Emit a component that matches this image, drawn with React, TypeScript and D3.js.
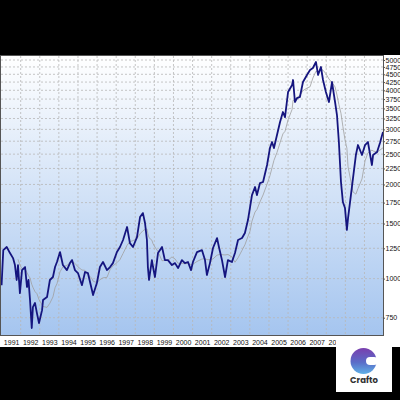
import { useEffect, useRef } from "react";
import { select, scaleLinear, scaleLog, axisRight, axisBottom, line, mean, range } from "d3";

// decimal year of each reading
const times = [
  1991.0, 1991.09, 1991.27, 1991.44, 1991.6, 1991.7, 1991.79, 1991.86, 1991.96, 1992.07,
  1992.23, 1992.33, 1992.41, 1992.49, 1992.58, 1992.64, 1992.75, 1992.85, 1992.96, 1993.12,
  1993.17, 1993.38, 1993.53, 1993.69, 1993.8, 1993.9, 1994.06, 1994.21, 1994.42, 1994.58,
  1994.69, 1994.84, 1995.0, 1995.21, 1995.37, 1995.52, 1995.73, 1995.79, 1995.99, 1996.15,
  1996.31, 1996.52, 1996.68, 1996.83, 1997.04, 1997.2, 1997.36, 1997.57, 1997.72, 1997.88,
  1998.09, 1998.25, 1998.4, 1998.51, 1998.61, 1998.66, 1998.72, 1998.87, 1998.93, 1999.03,
  1999.19, 1999.4, 1999.55, 1999.71, 1999.92, 2000.08, 2000.24, 2000.44, 2000.6, 2000.76,
  2000.92, 2001.02, 2001.23, 2001.49, 2001.65, 2001.75, 2001.91, 2002.07, 2002.28, 2002.38,
  2002.54, 2002.7, 2002.85, 2003.06, 2003.22, 2003.38, 2003.59, 2003.74, 2003.9, 2004.01,
  2004.11, 2004.27, 2004.37, 2004.53, 2004.69, 2004.9, 2005.05, 2005.16, 2005.26, 2005.42,
  2005.58, 2005.73, 2005.84, 2006.0, 2006.21, 2006.26, 2006.36, 2006.47, 2006.62, 2006.78,
  2006.99, 2007.15, 2007.3, 2007.46, 2007.57, 2007.72, 2007.83, 2007.98, 2008.14, 2008.3,
  2008.46, 2008.56, 2008.66, 2008.77, 2008.87, 2008.98, 2009.08, 2009.14, 2009.29, 2009.4,
  2009.55, 2009.66, 2009.87, 2010.03, 2010.18, 2010.39, 2010.45, 2010.66, 2010.81, 2010.97,
];

// index level
const values = [
  953, 1234, 1262, 1207, 1163, 1105, 990, 1105, 899, 1065,
  1089, 940, 990, 854, 695, 811, 836, 776, 721, 793,
  854, 873, 990, 1012, 1089, 1130, 1216, 1105, 1065, 1121,
  1146, 1065, 1042, 953, 1050, 1042, 920, 886, 968, 1089,
  1130, 1065, 1089, 1121, 1216, 1262, 1329, 1462, 1299, 1262,
  1358, 1573, 1620, 1506, 1329, 1089, 990, 1146, 1089, 1012,
  1207, 1262, 1146, 1146, 1105, 1121, 1081, 1146, 1121, 1130,
  1065, 1130, 1216, 1234, 1146, 1027, 1121, 1253, 1348, 1262,
  1146, 1012, 1146, 1130, 1207, 1329, 1348, 1399, 1539, 1694,
  1850, 1963, 1850, 2021, 2037, 2308, 2615, 2734, 2615, 2879,
  3168, 3409, 3285, 3951, 4159, 4315, 3670, 3779, 3808, 4252,
  4478, 4645, 4714, 4927, 4478, 4749, 4315, 3951, 3670, 4252,
  3670, 3334, 2734, 2037, 1757, 1681, 1430, 1562, 1850, 2097,
  2484, 2674, 2484, 2674, 2734, 2308, 2484, 2540, 2714, 2943,
];

const years = range(1991, 2011);
const priceTicks = [750, 1000, 1250, 1500, 1750, 2000, 2250, 2500, 2750, 3000, 3250, 3500, 3750, 4000, 4250, 4500, 4750, 5000];

const maWindow = 0.8; // ~200 trading days

export default function App() {
  const svgRef = useRef<SVGSVGElement>(null);

  useEffect(() => {
    const svg = select(svgRef.current);
    svg.selectAll("*").remove();

    const left = 1, right = 383, top = 56, bottom = 335;

    const x = scaleLinear().domain([1990.97, 2010.97]).range([left, right]);
    const y = scaleLog().domain([750, 5000]).range([317.7, 60]);

    const data = times.map((t, i) => ({ t, v: values[i] }));
    const ma = data
      .filter((d) => d.t - times[0] >= maWindow)
      .map((d) => ({
        t: d.t,
        v: mean(data.filter((e) => e.t <= d.t && e.t > d.t - maWindow), (e) => e.v) as number,
      }));

    // backgrounds
    svg.append("rect").attr("width", 400).attr("height", 400).attr("fill", "#000");
    svg.append("rect").attr("x", 0).attr("y", 55).attr("width", 400).attr("height", 292).attr("fill", "#fff");

    const defs = svg.append("defs");
    const bg = defs.append("linearGradient").attr("id", "bg").attr("x1", 0).attr("y1", 0).attr("x2", 0).attr("y2", 1);
    bg.append("stop").attr("offset", "0%").attr("stop-color", "#ffffff");
    bg.append("stop").attr("offset", "100%").attr("stop-color", "#a5c5ef");
    defs.append("clipPath").attr("id", "plot")
      .append("rect").attr("x", left).attr("y", top).attr("width", right - left).attr("height", bottom - top);

    svg.append("rect")
      .attr("x", left).attr("y", top).attr("width", right - left).attr("height", bottom - top)
      .attr("fill", "url(#bg)");

    // grid
    const grid = svg.append("g").attr("stroke", "#b8b8b8").attr("stroke-width", 0.8).attr("stroke-dasharray", "2,2");
    grid.selectAll(".h").data(priceTicks).join("line")
      .attr("x1", left).attr("x2", right)
      .attr("y1", (d) => y(d)).attr("y2", (d) => y(d));
    grid.selectAll(".v").data(years.slice(1)).join("line")
      .attr("y1", top).attr("y2", bottom)
      .attr("x1", (d) => x(d)).attr("x2", (d) => x(d));

    const lines = svg.append("g").attr("clip-path", "url(#plot)");
    const gen = line<{ t: number; v: number }>().x((d) => x(d.t)).y((d) => y(d.v));

    lines.append("path").datum(ma)
      .attr("d", gen).attr("fill", "none").attr("stroke", "#a0a0a0").attr("stroke-width", 0.8);
    lines.append("path").datum(data)
      .attr("d", gen).attr("fill", "none").attr("stroke", "#15157f").attr("stroke-width", 1.8)
      .attr("stroke-linejoin", "round");

    // frame
    svg.append("rect")
      .attr("x", left - 0.5).attr("y", top - 0.5).attr("width", right - left + 1).attr("height", bottom - top + 1)
      .attr("fill", "none").attr("stroke", "#555").attr("stroke-width", 1);

    // axes
    const yAxis = axisRight(y).tickValues(priceTicks).tickFormat((d) => String(d)).tickSize(1.5).tickPadding(0.5);
    const ya = svg.append("g").attr("transform", `translate(${right + 0.5},0)`).call(yAxis);
    ya.select(".domain").remove();
    ya.selectAll("text").attr("font-size", 7).attr("font-family", "Liberation Sans, Arial, sans-serif").attr("fill", "#111");
    ya.selectAll("line").attr("stroke", "#555");

    const xAxis = axisBottom(x).tickValues(years.map((d) => d + 0.5)).tickFormat((d) => String(Math.floor(+d))).tickSize(0).tickPadding(5);
    const xa = svg.append("g").attr("transform", `translate(0,${bottom})`).call(xAxis);
    xa.select(".domain").remove();
    xa.selectAll("text").attr("font-size", 7).attr("font-family", "Liberation Sans, Arial, sans-serif").attr("fill", "#111");

    // cropped bottom
    svg.append("rect").attr("x", 0).attr("y", 347).attr("width", 400).attr("height", 53).attr("fill", "#000");

    // watermark badge
    const lg = defs.append("linearGradient").attr("id", "logo").attr("x1", 0).attr("y1", 0).attr("x2", 0).attr("y2", 1);
    lg.append("stop").attr("offset", "0%").attr("stop-color", "#7a3fae");
    lg.append("stop").attr("offset", "55%").attr("stop-color", "#5a6cc8");
    lg.append("stop").attr("offset", "100%").attr("stop-color", "#5fb0e6");
    const badge = svg.append("g");
    badge.append("rect").attr("x", 336).attr("y", 338).attr("width", 56).attr("height", 54).attr("fill", "#fff");
    badge.append("circle").attr("cx", 363.5).attr("cy", 361).attr("r", 13).attr("fill", "url(#logo)");
    badge.append("rect").attr("x", 366).attr("y", 357).attr("width", 12).attr("height", 8).attr("rx", 4).attr("fill", "#fff");
    badge.append("text").attr("x", 364).attr("y", 383).attr("text-anchor", "middle")
      .attr("font-size", 8.5).attr("font-weight", "bold").attr("font-family", "Poppins, Noto Sans, sans-serif")
      .attr("fill", "#333").text("Crafto");
  }, []);

  return <svg ref={svgRef} width={400} height={400} style={{ position: "fixed", left: 0, top: 0 }} />;
}
